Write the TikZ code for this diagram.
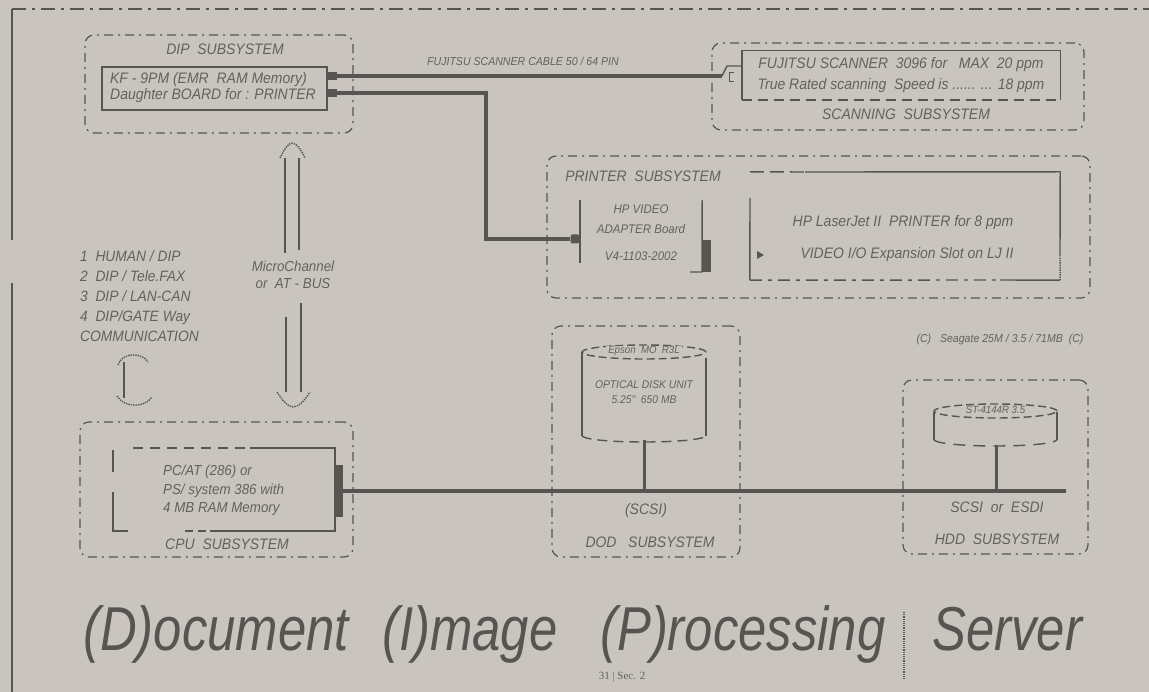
\documentclass[tikz,border=0pt]{standalone}
\usepackage{fontspec}
\setmainfont{Liberation Sans}
\newfontfamily\lblf[FakeStretch=0.92]{Liberation Sans}
\newfontfamily\ttlf[FakeStretch=0.82]{Liberation Sans}
\newfontfamily\pgnf{Liberation Serif}
\definecolor{bgc}{RGB}{201,197,190}
\definecolor{lc}{RGB}{88,84,81}
\definecolor{tc}{RGB}{100,96,93}
\begin{document}
\begin{tikzpicture}[x=1pt,y=-1pt,
  ln/.style={draw=lc,line width=1.4pt},
  sub/.style={draw=lc,line width=1.2pt,rounded corners=9pt,dash pattern=on 9pt off 5pt on 2pt off 5pt,inner sep=0pt},
  hid/.style={inner sep=0pt,draw=none},
  blk/.style={fill=lc,draw=none,inner sep=0pt},
  cable/.style={draw=lc,line width=4pt},
  lbl/.style={text=tc,inner sep=0pt,font={\lblf\itshape\fontsize{15.2}{16}\selectfont}},
  lblsm/.style={text=tc,inner sep=0pt,font={\lblf\itshape\fontsize{11.5}{13}\selectfont}},
  band/.style={text=tc,fill=bgc,inner xsep=2pt,inner ysep=0.5pt,font={\lblf\itshape\fontsize{10.5}{12}\selectfont}},
  ttl/.style={text=lc,inner sep=0pt,font={\ttlf\itshape\fontsize{62}{62}\selectfont}}]
\useasboundingbox (0,0) rectangle (1149,692);
\fill[bgc] (0,0) rectangle (1149,692);
% outer frame
\draw[lc,line width=1.3pt,dash pattern=on 14pt off 6pt on 3pt off 6pt] (12,9) -- (1149,9);
\draw[lc,line width=1.3pt] (12,9) -- (12,240);
\draw[lc,line width=1.3pt] (12,283) -- (12,692);

% ---------- DIP subsystem
\node[sub,minimum width=268pt,minimum height=98pt] (dip) at (219,84) {};
\node[lbl] (diplbl) at (225,49) {DIP\ \ SUBSYSTEM};
\node[hid,draw=lc,line width=1.4pt,minimum width=225pt,minimum height=43pt] (dipin) at (214.5,88.5) {};
\node[lbl,align=left] (diptxt) at (213,87.5) {KF - 9PM (EMR\ \ RAM Memory)\\Daughter BOARD for : PRINTER};
\node[blk,minimum width=9pt,minimum height=8pt] (p1) at (332,76) {};
\node[blk,minimum width=9pt,minimum height=8pt] (p2) at (332,93) {};

% ---------- scanner cable
\coordinate (sc) at (722,76);
\draw[cable] (p1.east) -- (sc);
\draw[ln] (sc) -- (727,66) -- (741,66);
\draw[lc,line width=1pt] (734,73) -- (729,73) -- (729,82) -- (734,82);
\node[lblsm] (cablbl) at (523,61) {FUJITSU SCANNER CABLE 50 / 64 PIN};

% ---------- scanning subsystem
\node[sub,minimum width=372pt,minimum height=87pt] (scan) at (898,86.5) {};
\node[hid,minimum width=318pt,minimum height=49pt] (scanin) at (901,75.5) {};
\draw[ln] (scanin.south west) -- (scanin.north west) -- (scanin.north east) -- (scanin.south east);
\draw[ln,dash pattern=on 10pt off 6pt] (scanin.south west) -- (scanin.south east);
\node[lbl,align=center,font={\lblf\itshape\fontsize{15.2}{21}\selectfont}] (scantxt) at (901,75) {FUJITSU SCANNER\ \ 3096 for\ \ \ MAX\ \ 20 ppm\\True Rated scanning\ \ Speed is ...... ... 18 ppm};
\node[lbl] (scanlbl) at (906,114) {SCANNING\ \ SUBSYSTEM};

% ---------- printer subsystem
\node[sub,minimum width=543pt,minimum height=142pt] (prn) at (818.5,227) {};
\node[lbl] (prnlbl) at (643,176) {PRINTER\ \ SUBSYSTEM};
\node[hid,minimum width=122pt,minimum height=63pt] (adp) at (641,231.5) {};
\draw[ln] (adp.north west) -- (adp.south west);
\draw[ln] (adp.north east) -- (702,272) -- (690,272);
\node[blk,minimum width=9pt,minimum height=32pt] (adpblk) at (706.5,256) {};
\node[lbl,align=center,font={\lblf\itshape\fontsize{12.5}{20}\selectfont}] (adptxt) at (641,233) {HP VIDEO\\ADAPTER Board\\[7pt]V4-1103-2002};
\node[blk,minimum width=9pt,minimum height=9pt,rounded corners=2pt] (adpin) at (575,239) {};
\coordinate (cb) at (486,239);
\draw[cable] (p2.east) -| (cb) -- (adpin.west);

\node[hid,minimum width=310pt,minimum height=108pt] (lj) at (905,226) {};
\draw[ln] (750,198) -- (lj.south west);
\draw[ln,dash pattern=on 14pt off 6pt] (lj.north west) -- (805,172);
\draw[ln] (805,172) -- (lj.north east) -- (1060,255);
\draw[ln,densely dotted] (1060,255) -- (lj.south east);
\draw[ln,dash pattern=on 12pt off 6pt on 4pt off 6pt] (lj.south west) -- (1000,280);
\draw[ln] (1000,280) -- (lj.south east);
\node[lbl] (ljt1) at (903,223) {HP LaserJet II\ \ PRINTER for 8 ppm};
\node[lbl] (ljt2) at (907,255) {VIDEO I/O Expansion Slot on LJ II};
\fill[lc] (757,251) -- (764,255) -- (757,259) -- cycle;

% ---------- MicroChannel double arrow
\coordinate (mct) at (292,143);
\coordinate (mcb) at (293,407);
\draw[ln,densely dotted] (280,158) .. controls (284,150) and (288,143) .. (mct) .. controls (297,143) and (301,150) .. (305,158);
\draw[ln] (285,158) -- (285,253);
\draw[ln] (299,158) -- (299,250);
\node[lbl,align=center,font={\lblf\itshape\fontsize{14.5}{17}\selectfont}] (mc) at (293,275) {MicroChannel\\or\ \ AT - BUS};
\draw[ln] (286,317) -- (286,392);
\draw[ln] (301,303) -- (301,392);
\draw[ln,densely dotted] (277,392) .. controls (282,400) and (288,407) .. (mcb) .. controls (299,407) and (305,400) .. (310,392);

% ---------- communication list
\node[lbl,align=left,anchor=north west,font={\lblf\itshape\fontsize{15}{20}\selectfont}] (comm) at (80,250) {1\ \ HUMAN / DIP\\2\ \ DIP / Tele.FAX\\3\ \ DIP / LAN-CAN\\4\ \ DIP/GATE Way\\COMMUNICATION};
\coordinate (cmt) at (124,362);
\coordinate (cmb) at (124,398);
\draw[ln] (cmt) -- (cmb);
\draw[ln,densely dotted] (118,365) .. controls (122,352) and (142,352) .. (148,362);
\draw[ln,densely dotted] (117,396) .. controls (124,408) and (145,408) .. (152,397);

% ---------- CPU subsystem
\node[sub,minimum width=273pt,minimum height=135pt] (cpu) at (216.5,489.5) {};
\draw[ln] (113,450) -- (113,472);
\draw[ln] (113,492) -- (113,531) -- (128,531);
\draw[ln,dash pattern=on 10pt off 7pt] (133,448) -- (250,448);
\draw[ln] (250,448) -- (335,448) -- (335,531) -- (210,531);
\draw[ln,dash pattern=on 8pt off 5pt] (185,531) -- (210,531);
\node[lbl,align=left,anchor=north west,font={\lblf\itshape\fontsize{14.5}{18.5}\selectfont}] (cputxt) at (163,465) {PC/AT (286) or\\PS/ system 386 with\\4 MB RAM Memory};
\node[lbl] (cpulbl) at (227,544) {CPU\ \ SUBSYSTEM};
\node[blk,minimum width=8pt,minimum height=52pt] (cpub) at (339,491) {};

% ---------- bus
\coordinate (busend) at (1066,491);
\draw[cable] (cpub.east) -- (busend);

% ---------- DOD subsystem
\node[sub,minimum width=188pt,minimum height=231pt] (dod) at (646,441.5) {};
\node[hid,minimum width=124pt,minimum height=92pt] (dodcyl) at (644,394) {};
\draw[ln] (582,352) -- (582,436);
\draw[ln] (706,358) -- (706,436);
\draw[ln,dash pattern=on 8pt off 4pt] (644,352) ellipse [x radius=62pt,y radius=7pt];
\node[band] (dodband) at (644,351) {Epson\ \ MO\ \ R3L};
\draw[ln,dash pattern=on 10pt off 6pt] (582,436) .. controls (590,444) and (698,444) .. (706,436);
\node[lblsm,align=center,font={\lblf\itshape\fontsize{11.2}{15}\selectfont}] (dodtxt) at (644,392) {OPTICAL DISK UNIT\\5.25"\ \ 650 MB};
\draw[draw=lc,line width=3pt] (dodcyl.south) -- (dodcyl.south |- busend);
\node[lbl] (scsi1) at (646,511) {(SCSI)};
\node[lbl] (dodlbl) at (650,542) {DOD\ \ \ SUBSYSTEM};

% ---------- HDD subsystem
\node[lblsm] (hddtop) at (1000,340) {(C)\ \ \ Seagate 25M / 3.5 / 71MB\ \ (C)};
\node[sub,minimum width=185pt,minimum height=174pt] (hdd) at (995.5,467) {};
\node[hid,minimum width=123pt,minimum height=39pt] (hddcyl) at (996,425.5) {};
\draw[ln] (934,412) -- (934,440);
\draw[ln] (1057,412) -- (1057,440);
\draw[ln,dash pattern=on 8pt off 4pt] (995.5,411) ellipse [x radius=61.5pt,y radius=7pt];
\node[band] (hddband) at (995.5,410) {ST-4144R 3.5};
\draw[ln,dash pattern=on 12pt off 8pt] (934,440) .. controls (942,448) and (1049,448) .. (1057,440);
\draw[draw=lc,line width=3pt] (hddcyl.south) -- (hddcyl.south |- busend);
\node[lbl] (scsi2) at (997,507) {SCSI\ \ or\ \ ESDI};
\node[lbl] (hddlbl) at (997,539) {HDD\ \ SUBSYSTEM};

% ---------- title
\node[ttl,anchor=base west] (t1) at (83,650) {(D)ocument};
\node[ttl,anchor=base west] (t2) at (382,650) {(I)mage};
\node[ttl,anchor=base west] (t3) at (600,650) {(P)rocessing};
\node[ttl,anchor=base west] (t4) at (932,650) {Server};
\draw[lc,densely dotted,line width=1.2pt] (904,612) -- (904,680);
\node[text=tc,inner sep=0pt,font={\pgnf\fontsize{11}{12}\selectfont}] (pg) at (622,677) {31 | Sec. 2};
\end{tikzpicture}
\end{document}
